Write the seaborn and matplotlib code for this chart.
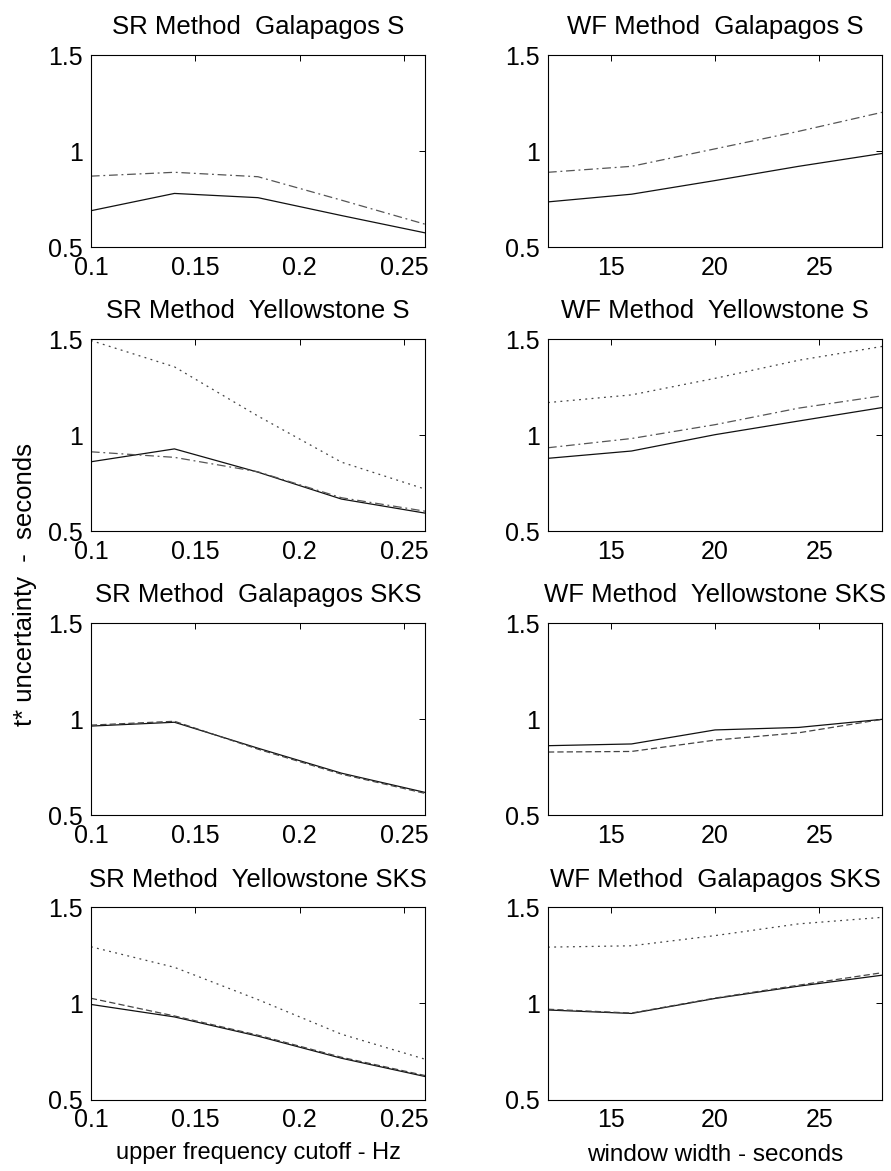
import matplotlib
matplotlib.use('Agg')
import matplotlib.pyplot as plt
import seaborn as sns

# x values
sr_freq = [0.10, 0.14, 0.18, 0.22, 0.26]
wf_win = [12, 16, 20, 24, 28]

# SR Method Galapagos S
sr_gal_s_solid = [0.69, 0.78, 0.758, 0.665, 0.575]
sr_gal_s_dashdot = [0.87, 0.89, 0.867, 0.745, 0.62]
# WF Method Galapagos S
wf_gal_s_solid = [0.736, 0.776, 0.847, 0.921, 0.988]
wf_gal_s_dashdot = [0.89, 0.921, 1.012, 1.103, 1.202]
# SR Method Yellowstone S
sr_yel_s_solid = [0.862, 0.929, 0.808, 0.668, 0.595]
sr_yel_s_dotted = [1.493, 1.356, 1.10, 0.86, 0.72]
sr_yel_s_dashdot = [0.914, 0.885, 0.81, 0.675, 0.605]
# WF Method Yellowstone S
wf_yel_s_solid = [0.88, 0.918, 1.003, 1.074, 1.144]
wf_yel_s_dotted = [1.17, 1.21, 1.296, 1.39, 1.462]
wf_yel_s_dashdot = [0.935, 0.983, 1.055, 1.141, 1.205]
# SR Method Galapagos SKS
sr_gal_sks_solid = [0.965, 0.985, 0.85, 0.72, 0.62]
sr_gal_sks_dashed = [0.97, 0.99, 0.845, 0.715, 0.615]
# WF Method Yellowstone SKS
wf_yel_sks_solid = [0.863, 0.872, 0.945, 0.958, 1.0]
wf_yel_sks_dashed = [0.83, 0.833, 0.892, 0.93, 1.0]
# SR Method Yellowstone SKS
sr_yel_sks_solid = [0.995, 0.93, 0.83, 0.715, 0.62]
sr_yel_sks_dashed = [1.027, 0.935, 0.835, 0.72, 0.625]
sr_yel_sks_dotted = [1.295, 1.188, 1.02, 0.84, 0.71]
# WF Method Galapagos SKS
wf_gal_sks_solid = [0.966, 0.948, 1.026, 1.09, 1.147]
wf_gal_sks_dashed = [0.97, 0.95, 1.028, 1.095, 1.16]
wf_gal_sks_dotted = [1.293, 1.30, 1.353, 1.414, 1.448]

titles = ['SR Method  Galapagos S', 'WF Method  Galapagos S',
          'SR Method  Yellowstone S', 'WF Method  Yellowstone S',
          'SR Method  Galapagos SKS', 'WF Method  Yellowstone SKS',
          'SR Method  Yellowstone SKS', 'WF Method  Galapagos SKS']

panels = [
    [(sr_gal_s_solid, 'solid'), (sr_gal_s_dashdot, 'dashdot')],
    [(wf_gal_s_solid, 'solid'), (wf_gal_s_dashdot, 'dashdot')],
    [(sr_yel_s_solid, 'solid'), (sr_yel_s_dotted, 'dotted'), (sr_yel_s_dashdot, 'dashdot')],
    [(wf_yel_s_solid, 'solid'), (wf_yel_s_dotted, 'dotted'), (wf_yel_s_dashdot, 'dashdot')],
    [(sr_gal_sks_solid, 'solid'), (sr_gal_sks_dashed, 'dashed')],
    [(wf_yel_sks_solid, 'solid'), (wf_yel_sks_dashed, 'dashed')],
    [(sr_yel_sks_solid, 'solid'), (sr_yel_sks_dashed, 'dashed'), (sr_yel_sks_dotted, 'dotted')],
    [(wf_gal_sks_solid, 'solid'), (wf_gal_sks_dashed, 'dashed'), (wf_gal_sks_dotted, 'dotted')],
]

styles = {'solid': ('-', '#111111'),
          'dashed': ((0, (5, 2.5)), '#444444'),
          'dotted': ((0, (1.5, 3.5)), '#444444'),
          'dashdot': ((0, (7, 3, 1.5, 3)), '#555555')}

sns.set_style('white')
plt.rcParams['font.family'] = ['Liberation Sans', 'DejaVu Sans']
plt.rcParams['text.color'] = 'black'
plt.rcParams['axes.labelcolor'] = 'black'

fig, axes = plt.subplots(4, 2, figsize=(8.91, 11.71), dpi=100)
fig.subplots_adjust(left=0.102, right=0.99, top=0.953, bottom=0.061,
                    wspace=0.368, hspace=0.478)

for i, ax in enumerate(axes.flat):
    left = (i % 2 == 0)
    xs = sr_freq if left else wf_win
    for ys, st in panels[i]:
        ls, col = styles[st]
        sns.lineplot(x=xs, y=ys, ax=ax, color=col, linestyle=ls, lw=0.9)
    ax.set_ylim(0.5, 1.5)
    ax.set_yticks([0.5, 1, 1.5])
    ax.set_yticklabels(['0.5', '1', '1.5'])
    if left:
        ax.set_xlim(0.1, 0.26)
        ax.set_xticks([0.1, 0.15, 0.2, 0.25])
        ax.set_xticklabels(['0.1', '0.15', '0.2', '0.25'])
    else:
        ax.set_xlim(12, 28)
        ax.set_xticks([15, 20, 25])
        ax.set_xticklabels(['15', '20', '25'])
    ax.tick_params(direction='in', top=True, right=True, length=4,
                   width=0.7, labelsize=18, pad=6, colors='black')
    for sp in ax.spines.values():
        sp.set_color('black')
        sp.set_linewidth(0.8)
    ax.set_title(titles[i], fontsize=18.5, pad=15, color='black')

axes[3, 0].set_xlabel('upper frequency cutoff - Hz', fontsize=17, labelpad=7)
axes[3, 1].set_xlabel('window width - seconds', fontsize=17.5, labelpad=9)
fig.text(25 / 891, 1 - 585 / 1171, 't* uncertainty  -  seconds', rotation=90,
         fontsize=18.5, ha='center', va='center', color='black')

fig.savefig('out.png', dpi=100)
